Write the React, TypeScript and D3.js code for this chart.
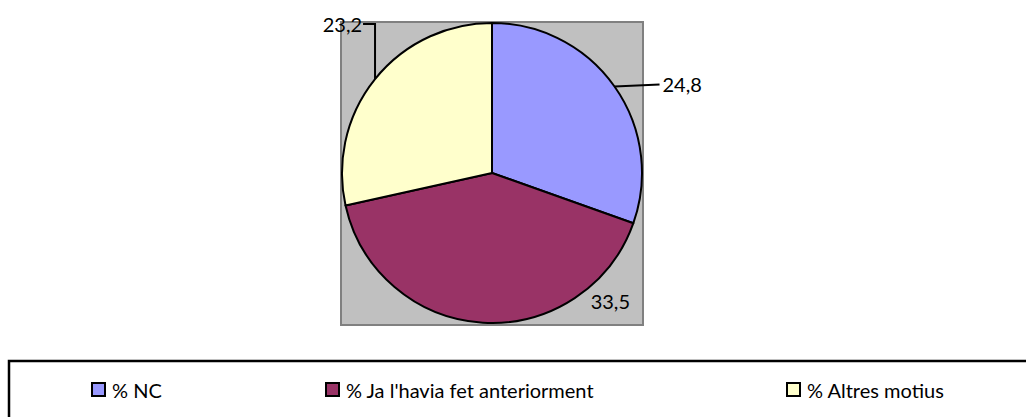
import React from "react";
import * as d3 from "d3";

const categories = ["% NC", "% Ja l'havia fet anteriorment", "% Altres motius"];
const values = [24.8, 33.5, 23.2];
const valueLabels = ["24,8", "33,5", "23,2"];
const colors = ["#9999FF", "#993366", "#FFFFCC"];

const W = 1026;
const H = 417;
const FONT = "Lato, 'Noto Sans', sans-serif";

export default function App() {
  const cx = 492;
  const cy = 173;
  const r = 150;
  const plot = { x: 341, y: 22, w: 302, h: 303 };

  const pie = d3
    .pie<number>()
    .sort(null)
    .value((d) => d)
    .startAngle(0)
    .endAngle(Math.PI * 2);
  const arcs = pie(values);
  const arcGen = d3.arc<d3.PieArcDatum<number>>().innerRadius(0).outerRadius(r);

  const edge = (a: d3.PieArcDatum<number>) => {
    const m = (a.startAngle + a.endAngle) / 2;
    return [Math.sin(m) * r, -Math.cos(m) * r];
  };

  const e0 = edge(arcs[0]);
  const e2 = edge(arcs[2]);

  const legendX = [91, 325, 786];

  return (
    <svg
      width={W}
      height={H}
      style={{ position: "absolute", left: 0, top: 0, display: "block" }}
      fontFamily={FONT}
    >
      <rect x={0} y={0} width={W} height={H} fill="#fff" />
      <rect
        x={plot.x}
        y={plot.y}
        width={plot.w}
        height={plot.h}
        fill="#C0C0C0"
        stroke="#808080"
        strokeWidth={2}
      />
      <g transform={`translate(${cx},${cy})`}>
        {arcs.map((a, i) => (
          <path
            key={i}
            d={arcGen(a) || ""}
            fill={colors[i]}
            stroke="#000"
            strokeWidth={2}
            strokeLinejoin="round"
          />
        ))}
        {/* 24,8 leader */}
        <line
          x1={e0[0]}
          y1={e0[1]}
          x2={e0[0] + 45}
          y2={e0[1] - 2}
          stroke="#000"
          strokeWidth={2}
        />
        <text
          x={e0[0] + 48}
          y={e0[1] - 2}
          fontSize={20}
          dominantBaseline="central"
          fill="#000"
        >
          {valueLabels[0]}
        </text>
        {/* 23,2 leader */}
        <polyline
          points={`${e2[0]},${e2[1]} ${e2[0]},${plot.y + 2 - cy} ${e2[0] - 12},${plot.y + 2 - cy}`}
          fill="none"
          stroke="#000"
          strokeWidth={2}
        />
        <text
          x={e2[0] - 13}
          y={plot.y + 2 - cy}
          fontSize={20}
          textAnchor="end"
          dominantBaseline="central"
          fill="#000"
        >
          {valueLabels[2]}
        </text>
        {/* 33,5 inside best fit */}
        <text
          x={r - 12}
          y={r - 22}
          fontSize={20}
          textAnchor="end"
          dominantBaseline="central"
          fill="#000"
        >
          {valueLabels[1]}
        </text>
      </g>
      <rect
        x={9}
        y={361}
        width={1030}
        height={70}
        fill="#fff"
        stroke="#000"
        strokeWidth={2.5}
      />
      {categories.map((c, i) => (
        <g key={i} transform={`translate(${legendX[i]},390)`}>
          <rect
            x={1}
            y={-7}
            width={13}
            height={13}
            fill={colors[i]}
            stroke="#000"
            strokeWidth={2}
          />
          <text x={21} y={0} fontSize={20} dominantBaseline="central" fill="#000">
            {c}
          </text>
        </g>
      ))}
    </svg>
  );
}
